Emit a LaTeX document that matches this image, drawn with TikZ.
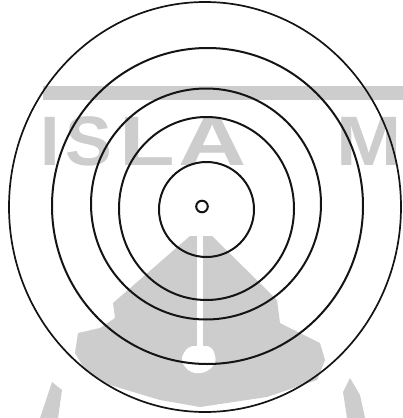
\documentclass[tikz,border=0pt]{standalone}
\usepackage{fontspec}
\newfontfamily\markfont{Liberation Sans}
\definecolor{ink}{HTML}{141414}
\definecolor{wmgray}{HTML}{CDCDCD}

\begin{document}
\begin{tikzpicture}[x=1pt, y=-1pt,
  ring/.style={draw=ink, line width=2pt},
  outer/.style={draw=ink, line width=1.7pt},
  letter/.style={text=wmgray, font=\markfont\bfseries\fontsize{70}{70}\selectfont, inner sep=0pt, anchor=base west}]
\useasboundingbox (0,0) rectangle (403,418);
\begin{scope}
\clip (0,0) rectangle (403,418);
\fill[wmgray] (43,86) rectangle (403,100);
\node[letter] (ml1) at (40,165) {I};
\node[letter] (ml2) at (65,165) {S};
\node[letter, xscale=1.3] (ml3) at (119,165) {L};
\node[letter, xscale=1.35] (ml4) at (178,165) {A};
\node[letter, xscale=1.12] (ml5) at (336,165) {M};
\fill[wmgray] (190,236) -- (113,303) -- (115,318) -- (100,328) -- (78,333) -- (75,353) -- (85,370)
  -- (110,385) -- (160,400) -- (200,407) -- (267,397) -- (317,380) -- (325,360) -- (320,343)
  -- (300,333) -- (280,323) -- (277,300) -- (212,236) -- cycle;
\fill[wmgray] (40,418) -- (52,382) -- (62,390) -- (58,418) -- cycle;
\fill[wmgray] (343,392) -- (350,378) -- (360,395) -- (365,418) -- (347,418) -- cycle;
\fill[white] (197,232) rectangle (203,346);
\fill[white, rounded corners=6pt] (188,346) -- (212,346) -- (217,362) -- (206,373) -- (190,373) -- (180,360) -- cycle;
\end{scope}
\draw[ring] (202,206.5) circle [radius=5.8];
\draw[ring] (206.5,209.5) circle [radius=47.5];
\draw[ring] (206.5,208.5) circle [x radius=87.5, y radius=91.5];
\draw[ring] (206,204) circle [x radius=115, y radius=115.5];
\draw[ring] (207.5,206) circle [x radius=155.5, y radius=158];
\draw[outer] (205,207) circle [x radius=196, y radius=205];
\end{tikzpicture}
\end{document}
